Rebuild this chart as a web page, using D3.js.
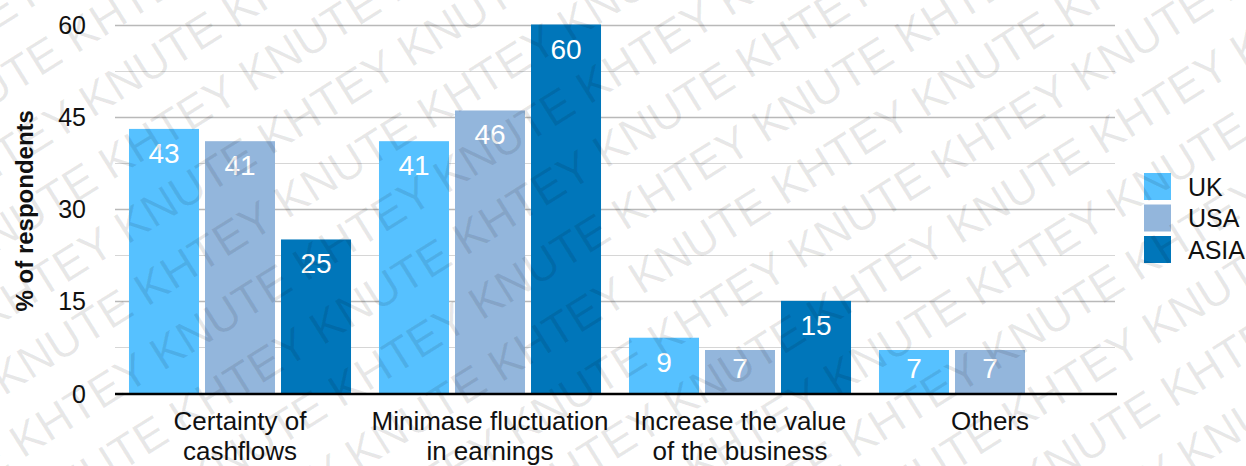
<!DOCTYPE html>
<html>
<head>
<meta charset="utf-8">
<script src="https://cdn.jsdelivr.net/npm/d3@7"></script>
<style>
  html, body { margin: 0; padding: 0; background: #fff; }
  svg { display: block; font-family: "Liberation Sans", Arial, Helvetica, sans-serif; }
</style>
</head>
<body>
<svg id="chart" width="1246" height="466"></svg>
<script>
// Survey: reasons for hedging, % of respondents by region
const categories = [
  ["Certainty of", "cashflows"],
  ["Minimase fluctuation", "in earnings"],
  ["Increase the value", "of the business"],
  ["Others"]
];
const seriesNames = ["UK", "USA", "ASIA"];
const ukValues   = [43, 41, 9, 7];
const usaValues  = [41, 46, 7, 7];
const asiaValues = [25, 60, 15, null];
const yTicks = [0, 15, 30, 45, 60];
const yMinorTicks = [7.5, 22.5, 37.5, 52.5];
const watermarkText = "KHTEY KNUTE";

const seriesValues = [ukValues, usaValues, asiaValues];
const colors = ["#56C1FF", "#93B6DC", "#0076BA"];

const W = 1246, H = 466;
const plot = { left: 115, right: 1115, top: 24.5, bottom: 393 };

const svg = d3.select("#chart");

const catKeys = categories.map((c, i) => i);
const x0 = d3.scaleBand().domain(catKeys).range([plot.left, plot.right]);
const x1 = d3.scaleBand().domain(seriesNames).range([0, x0.bandwidth()])
  .paddingInner(0.079).paddingOuter(0.184);
const y = d3.scaleLinear().domain([0, 60]).range([plot.bottom, plot.top]);
const color = d3.scaleOrdinal().domain(seriesNames).range(colors);

// minor gridlines
svg.append("g").selectAll("line").data(yMinorTicks).join("line")
  .attr("x1", plot.left).attr("x2", plot.right)
  .attr("y1", d => Math.round(y(d)) + 0.5).attr("y2", d => Math.round(y(d)) + 0.5)
  .attr("stroke", "#d6d6d6").attr("stroke-width", 1.2);

// major gridlines
svg.append("g").selectAll("line").data(yTicks.filter(t => t !== 0)).join("line")
  .attr("x1", plot.left).attr("x2", plot.right)
  .attr("y1", d => Math.round(y(d)) + 0.5).attr("y2", d => Math.round(y(d)) + 0.5)
  .attr("stroke", "#b9b9b9").attr("stroke-width", 1.4);

// y tick labels
const yAxis = d3.axisLeft(y).tickValues(yTicks).tickSize(0).tickPadding(0);
const yg = svg.append("g").attr("transform", `translate(${86},0)`).call(yAxis);
yg.select(".domain").remove();
yg.selectAll("text")
  .attr("font-size", 25).attr("fill", "#111")
  .attr("font-family", "Liberation Sans, Arial, sans-serif")
  .attr("dy", "0.36em");

// y axis title
svg.append("text")
  .attr("transform", `translate(33, ${(plot.top + plot.bottom) / 2 + 2}) rotate(-90)`)
  .attr("text-anchor", "middle")
  .attr("font-size", 24).attr("font-weight", "bold").attr("fill", "#111")
  .text("% of respondents");

// bars
const rows = [];
catKeys.forEach(ci => {
  seriesNames.forEach((s, si) => {
    const v = seriesValues[si][ci];
    if (v != null) rows.push({ ci, s, v });
  });
});

const barG = svg.append("g");
barG.selectAll("rect").data(rows).join("rect")
  .attr("x", d => x0(d.ci) + x1(d.s))
  .attr("width", x1.bandwidth())
  .attr("y", d => y(d.v))
  .attr("height", d => y(0) - y(d.v))
  .attr("fill", d => color(d.s));

// value labels inside bar tops
barG.selectAll("text").data(rows).join("text")
  .attr("x", d => x0(d.ci) + x1(d.s) + x1.bandwidth() / 2)
  .attr("y", d => Math.min(y(d.v) + 34, y(0) - 15))
  .attr("text-anchor", "middle")
  .attr("font-size", 28).attr("fill", "#fff")
  .text(d => d.v);

// baseline
svg.append("line")
  .attr("x1", plot.left).attr("x2", plot.right + 2)
  .attr("y1", y(0) + 1).attr("y2", y(0) + 1)
  .attr("stroke", "#000").attr("stroke-width", 2.5);

// category labels
const catG = svg.append("g");
catKeys.forEach(ci => {
  const t = catG.append("text")
    .attr("x", x0(ci) + x0.bandwidth() / 2)
    .attr("y", 430)
    .attr("text-anchor", "middle")
    .attr("font-size", 26).attr("fill", "#111");
  categories[ci].forEach((line, li) => {
    t.append("tspan").attr("x", x0(ci) + x0.bandwidth() / 2)
      .attr("y", 430 + li * 30).text(line);
  });
});

// legend
const leg = svg.append("g").attr("transform", "translate(1144,173)");
const legItems = leg.selectAll("g").data(seriesNames).join("g")
  .attr("transform", (d, i) => `translate(0, ${i * 31.5})`);
legItems.append("rect").attr("width", 27).attr("height", 27)
  .attr("fill", d => color(d));
legItems.append("text").attr("x", 44).attr("y", 13.5).attr("dy", "0.36em")
  .attr("font-size", 25).attr("fill", "#111").text(d => d);

// diagonal watermark overlay
const wmSize = 46, wmPeriod = 335, wmShift = 149, wmGap = 63;
const wm = svg.append("g")
  .attr("pointer-events", "none")
  .attr("fill", "#000").attr("fill-opacity", 0.09)
  .attr("font-size", wmSize)
  .attr("transform", "translate(627, 230) rotate(-32)");
const wmLine = d3.range(6).map(() => watermarkText).join(" ");
d3.range(-9, 10).forEach(r => {
  const off = ((r * wmShift) % wmPeriod + wmPeriod) % wmPeriod;
  wm.append("text")
    .attr("x", off - 3 * wmPeriod)
    .attr("y", r * wmGap)
    .text(wmLine);
});
</script>
</body>
</html>
